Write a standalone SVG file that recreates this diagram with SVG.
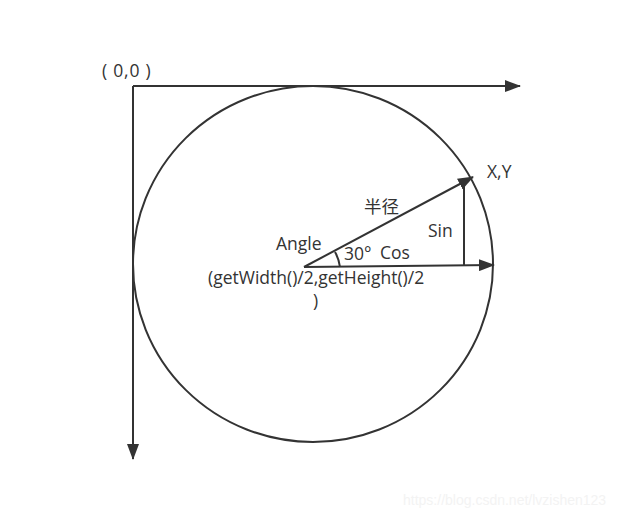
<svg xmlns="http://www.w3.org/2000/svg" width="643" height="519" viewBox="0 0 643 519">
<defs>
<style>
.ln{stroke:#333;stroke-width:2;fill:none}
.ar{marker-end:url(#ah)}
.t{font-family:"Open Sans","Noto Sans","Noto Sans CJK SC",sans-serif;font-size:17.5px;fill:#333}
</style>
<marker id="ah" viewBox="0 0 16 12" refX="15" refY="6" markerWidth="16" markerHeight="12" markerUnits="userSpaceOnUse" orient="auto">
<path d="M0,0 L16,6 L0,12 Z" fill="#333"/>
</marker>
</defs>
<rect width="643" height="519" fill="#fff"/>
<g id="circle">
<ellipse class="ln" cx="313" cy="264" rx="180" ry="178"/>
</g>
<g id="connectors">
<path class="ln ar" d="M133,86 L520,86"/>
<path class="ln ar" d="M133,86 L133,459"/>
<path class="ln ar" d="M304,267 L494,265"/>
<path class="ln ar" d="M304,267 L473,177"/>
<path class="ln" d="M464,184 L464,266"/>
<path class="ln" d="M335,252 Q339,259 340,267"/>
</g>
<g id="labels">
<text class="t" x="102" y="77" letter-spacing="0.8">( 0,0 )</text>
<text class="t" x="487" y="178">X,Y</text>
<text class="t" x="364" y="213">半径</text>
<text class="t" x="428" y="237">Sin</text>
<text class="t" x="276" y="250">Angle</text>
<text class="t" x="344" y="260">30°</text>
<text class="t" x="380" y="259">Cos</text>
<text class="t" x="208" y="284">(getWidth()/2,getHeight()/2</text>
<text class="t" x="313" y="307">)</text>
<text x="403" y="505" style="font-family:'Liberation Sans',sans-serif;font-size:14px;fill:#f3f3f3">https://blog.csdn.net/lvzishen123</text>
</g>
</svg>
